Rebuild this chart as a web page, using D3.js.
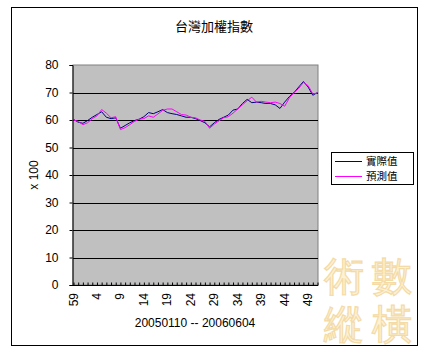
<!DOCTYPE html>
<meta charset="utf-8">
<style>
  body { margin: 0; background: #fff; }
  text { font-family: "Liberation Sans", Arial, sans-serif; }
  .cjk { font-family: "Noto Sans CJK TC", "Noto Sans CJK SC", sans-serif; }
</style>
<svg width="428" height="353"></svg>
<script src="https://d3js.org/d3.v7.min.js"></script>
<script>

// category labels (week index, wraps after 59)
var weeks = ["59"].concat(d3.range(0, 52).map(String));

// 實際值 (actual), in hundreds
var actual = [60.2, 59.2, 58.8, 59.8, 61.0, 62.0, 63.0, 61.0, 60.5, 60.8,
              57.0, 58.0, 59.0, 59.8, 60.3, 61.2, 62.7, 62.3, 63.0, 63.8,
              62.7, 62.3, 62.0, 61.5, 61.0, 61.0, 60.5, 59.8, 59.0, 57.5,
              59.0, 60.2, 61.0, 61.8, 63.6, 64.0, 66.0, 67.5, 66.3, 66.5,
              66.3, 66.0, 66.0, 65.5, 64.2, 66.5, 68.5, 70.0, 72.0, 74.0,
              72.0, 69.0, 70.0];

// 預測值 (predicted)
var predicted = [60.0, 59.5, 58.3, 59.0, 60.5, 61.5, 63.8, 62.5, 60.8, 61.2,
                 56.5, 57.2, 58.3, 59.5, 60.3, 60.5, 61.5, 61.0, 62.2, 63.5,
                 64.0, 64.0, 63.0, 62.0, 61.8, 61.0, 60.8, 60.0, 59.5, 57.0,
                 58.5, 59.7, 60.8, 61.2, 62.5, 64.0, 65.5, 67.0, 68.3, 66.5,
                 66.8, 66.5, 66.3, 66.5, 66.0, 65.0, 68.0, 70.0, 71.5, 73.7,
                 72.5, 69.5, 69.8];

var yTicks = [0, 10, 20, 30, 40, 50, 60, 70, 80];
var seriesNames = ["實際值", "預測值"];
var seriesColors = ["#000080", "#ff00ff"];

var svg = d3.select("svg");

// outer chart frame
svg.append("rect")
    .attr("x", 11.5).attr("y", 7.5)
    .attr("width", 406).attr("height", 338)
    .attr("fill", "#fff")
    .attr("stroke", "#000");

// watermark
var wm = svg.append("g").attr("class", "cjk")
    .attr("font-size", 40).attr("font-weight", "normal")
    .attr("fill", "#fdf1d6").attr("stroke", "#f4dba6").attr("stroke-width", 1.2)
    .attr("text-anchor", "middle");
wm.append("text").attr("x", 344).attr("y", 290).text("術");
wm.append("text").attr("x", 392).attr("y", 290).text("數");
wm.append("text").attr("x", 344).attr("y", 338).text("縱");
wm.append("text").attr("x", 392).attr("y", 338).text("橫");

var x = d3.scalePoint()
    .domain(weeks)
    .range([73.5, 317.5]);

var y = d3.scaleLinear()
    .domain([0, 80])
    .range([285, 65]);

// plot area
svg.append("rect")
    .attr("x", 73).attr("y", 65)
    .attr("width", 245).attr("height", 220)
    .attr("fill", "#c0c0c0")
    .attr("stroke", "#808080");

// grid lines
svg.append("g")
    .selectAll("line")
    .data(yTicks.filter(function(d) { return d > 0 && d < 80; }))
    .enter().append("line")
    .attr("x1", 73).attr("x2", 318)
    .attr("y1", function(d) { return Math.round(y(d)) + 0.5; })
    .attr("y2", function(d) { return Math.round(y(d)) + 0.5; })
    .attr("stroke", "#000");

// y axis
var gy = svg.append("g")
    .attr("transform", "translate(72.5,0)")
    .call(d3.axisLeft(y).tickValues(yTicks).tickSize(3).tickPadding(11));
gy.select(".domain").attr("stroke", "#000");
gy.selectAll("text").attr("font-size", 12).attr("font-family", "Liberation Sans, Arial, sans-serif").attr("fill", "#000");

// x axis tick marks (every category)
var gx = svg.append("g")
    .attr("transform", "translate(0,285.5)")
    .call(d3.axisBottom(x).tickSize(-3).tickFormat(""));
gx.select(".domain").attr("d", "M72.5,0H318");

// x labels every 5th category, rotated
svg.append("g")
    .selectAll("text")
    .data(weeks.filter(function(d, i) { return i % 5 === 0; }))
    .enter().append("text")
    .attr("transform", function(d) { return "translate(" + (x(d) + 4) + ",293) rotate(-90)"; })
    .attr("text-anchor", "end")
    .attr("font-size", 12)
    .text(function(d) { return d; });

// axis titles
svg.append("text")
    .attr("transform", "translate(38,175) rotate(-90)")
    .attr("text-anchor", "middle")
    .attr("font-size", 12)
    .text("x 100");

svg.append("text")
    .attr("x", 195).attr("y", 327)
    .attr("text-anchor", "middle")
    .attr("font-size", 12)
    .text("20050110 -- 20060604");

svg.append("text")
    .attr("class", "cjk")
    .attr("x", 214).attr("y", 31)
    .attr("text-anchor", "middle")
    .attr("font-size", 13)
    .text("台灣加權指數");

// lines
var line = d3.line()
    .x(function(d, i) { return x(weeks[i]); })
    .y(function(d) { return y(d); });

[actual, predicted].forEach(function(s, k) {
  svg.append("path")
      .datum(s)
      .attr("fill", "none")
      .attr("stroke", seriesColors[k])
      .attr("stroke-width", 1)
      .attr("d", line);
});

// legend
var lg = svg.append("g");
lg.append("rect")
    .attr("x", 331.5).attr("y", 152.5)
    .attr("width", 82).attr("height", 32)
    .attr("fill", "#fff").attr("stroke", "#000");
seriesNames.forEach(function(n, k) {
  var ly = 161.5 + k * 15;
  lg.append("line")
      .attr("x1", 335).attr("x2", 362)
      .attr("y1", ly).attr("y2", ly)
      .attr("stroke", seriesColors[k]);
  lg.append("text")
      .attr("class", "cjk")
      .attr("x", 366).attr("y", ly)
      .attr("dy", "0.35em")
      .attr("font-size", 10.5)
      .text(n);
});

</script>
